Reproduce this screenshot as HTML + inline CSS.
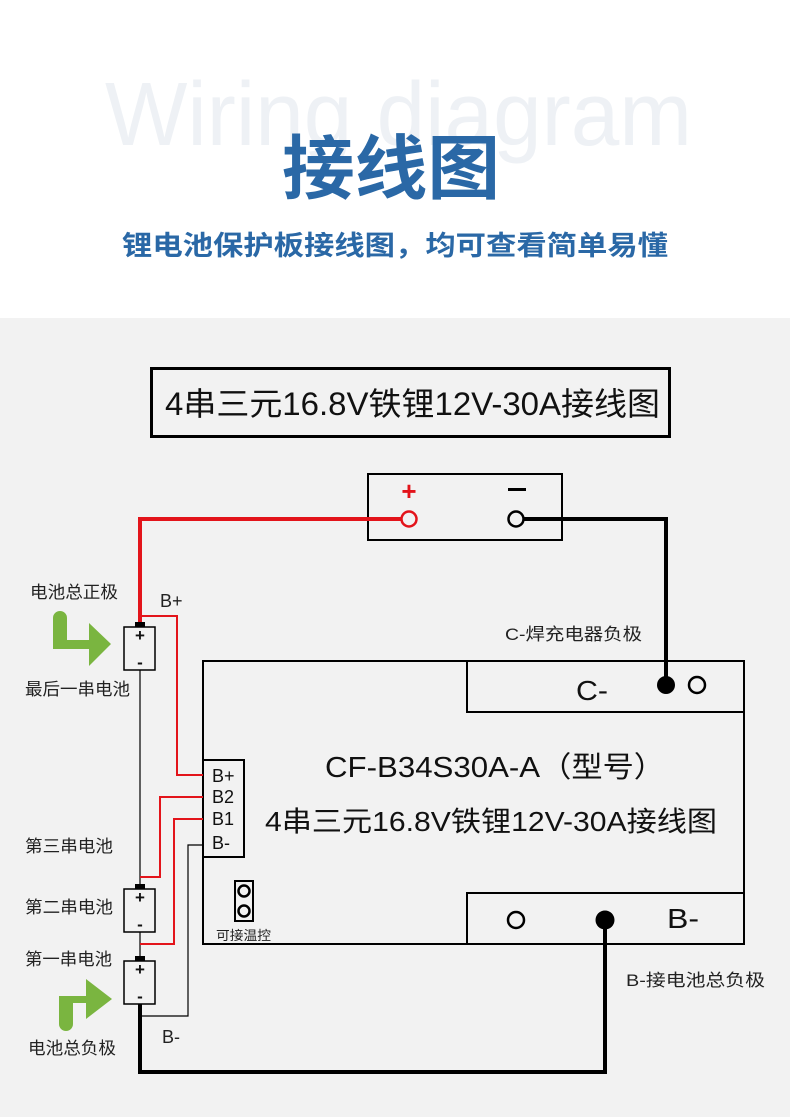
<!DOCTYPE html>
<html><head><meta charset="utf-8"><style>
html,body{margin:0;padding:0;width:790px;height:1117px;overflow:hidden;background:#fff}
svg{display:block}
text{font-family:"Liberation Sans","Noto Sans CJK SC",sans-serif}
</style></head><body>
<svg width="790" height="1117" viewBox="0 0 790 1117" xmlns="http://www.w3.org/2000/svg">
<rect x="0" y="0" width="790" height="318" fill="#fff"/>
<rect x="0" y="318" width="790" height="799" fill="#f2f2f2"/>
<text x="105" y="145" font-size="90" fill="#eef1f5" textLength="587" lengthAdjust="spacingAndGlyphs">Wiring diagram</text>
<text x="282" y="193" font-size="70" fill="#2a68a6" font-weight="bold" textLength="218" lengthAdjust="spacingAndGlyphs">接线图</text>
<text x="122" y="255" font-size="27" fill="#2a68a6" font-weight="bold" textLength="546" lengthAdjust="spacingAndGlyphs">锂电池保护板接线图，均可查看简单易懂</text>

<rect x="151.5" y="368.5" width="518" height="68" fill="none" stroke="#000" stroke-width="3"/>
<text x="165" y="415" font-size="32" fill="#111" textLength="495" lengthAdjust="spacingAndGlyphs">4串三元16.8V铁锂12V-30A接线图</text>

<rect x="368" y="474" width="194" height="66" fill="none" stroke="#000" stroke-width="2"/>
<text x="409" y="500" font-size="26" fill="#e3141b" text-anchor="middle" font-weight="bold">+</text>
<rect x="508" y="488" width="18" height="3" fill="#000"/>
<polyline points="401,519 140,519 140,624" fill="none" stroke="#e3141b" stroke-width="4"/>
<circle cx="409" cy="519" r="7.5" fill="#f2f2f2" stroke="#e3141b" stroke-width="2.5"/>
<polyline points="524,519 666,519 666,684" fill="none" stroke="#000" stroke-width="4"/>
<circle cx="516" cy="519" r="7.5" fill="#f2f2f2" stroke="#000" stroke-width="2.5"/>

<rect x="203" y="661" width="541" height="283" fill="none" stroke="#000" stroke-width="2"/>
<rect x="467" y="661" width="277" height="51" fill="none" stroke="#000" stroke-width="2"/>
<rect x="467" y="893" width="277" height="51" fill="none" stroke="#000" stroke-width="2"/>
<text x="576" y="700" font-size="28" fill="#111" textLength="32" lengthAdjust="spacingAndGlyphs">C-</text>
<circle cx="666" cy="685" r="9" fill="#000"/>
<circle cx="697" cy="685" r="8" fill="none" stroke="#000" stroke-width="2.5"/>
<text x="667" y="928" font-size="28" fill="#111" textLength="32" lengthAdjust="spacingAndGlyphs">B-</text>
<circle cx="516" cy="920" r="8" fill="none" stroke="#000" stroke-width="2.5"/>
<circle cx="605" cy="920" r="9.5" fill="#000"/>
<polyline points="605,920 605,1072 140,1072 140,1004" fill="none" stroke="#000" stroke-width="4"/>

<text x="325" y="777" font-size="29" fill="#111" textLength="340" lengthAdjust="spacingAndGlyphs">CF-B34S30A-A（型号）</text>
<text x="265" y="831" font-size="28" fill="#111" textLength="452" lengthAdjust="spacingAndGlyphs">4串三元16.8V铁锂12V-30A接线图</text>

<rect x="203" y="760" width="41" height="97" fill="#f2f2f2" stroke="#000" stroke-width="2"/>
<text x="212" y="782" font-size="18" fill="#111">B+</text>
<text x="212" y="803" font-size="18" fill="#111">B2</text>
<text x="212" y="825" font-size="18" fill="#111">B1</text>
<text x="212" y="849" font-size="18" fill="#111">B-</text>

<rect x="235" y="881" width="18" height="40" fill="none" stroke="#000" stroke-width="2"/>
<circle cx="244" cy="891" r="5.5" fill="none" stroke="#000" stroke-width="2.5"/>
<circle cx="244" cy="911" r="5.5" fill="none" stroke="#000" stroke-width="2.5"/>
<text x="216" y="940" font-size="13" fill="#222" textLength="55" lengthAdjust="spacingAndGlyphs">可接温控</text>

<polyline points="140,670 140,888" fill="none" stroke="#000" stroke-width="1.2"/>
<polyline points="140,932 140,960" fill="none" stroke="#000" stroke-width="1.2"/>
<polyline points="140,616 177,616 177,775 203,775" fill="none" stroke="#e3141b" stroke-width="2"/>
<polyline points="140,877 160,877 160,797 203,797" fill="none" stroke="#e3141b" stroke-width="2"/>
<polyline points="140,944 174,944 174,819 203,819" fill="none" stroke="#e3141b" stroke-width="2"/>
<polyline points="140,1016 188,1016 188,845 203,845" fill="none" stroke="#000" stroke-width="1.2"/>

<g fill="#f2f2f2" stroke="#000" stroke-width="1.5">
<rect x="124" y="627" width="31" height="43"/>
<rect x="124" y="889" width="31" height="43"/>
<rect x="124" y="961" width="31" height="43"/>
</g>
<rect x="135" y="622" width="10" height="5" fill="#000"/>
<rect x="135" y="884" width="10" height="5" fill="#000"/>
<rect x="135" y="956" width="10" height="5" fill="#000"/>
<g font-size="17" font-weight="bold" text-anchor="middle" fill="#111">
<text x="140" y="641">+</text><text x="140" y="668">-</text>
<text x="140" y="903">+</text><text x="140" y="930">-</text>
<text x="140" y="975">+</text><text x="140" y="1002">-</text>
</g>

<path d="M53,618 a7,7 0 0 1 14,0 v22 h22 v-17 l22,21 l-22,22 v-17 h-36 z" fill="#7ab540"/>
<path d="M59,1024 v-28 h27 v-17 l26,20 l-26,20 v-16 h-13 v21 a7,7 0 0 1 -14,0 z" fill="#7ab540"/>

<g font-size="17" fill="#222">
<text x="30" y="598" textLength="88" lengthAdjust="spacingAndGlyphs">电池总正极</text>
<text x="25" y="695" textLength="105" lengthAdjust="spacingAndGlyphs">最后一串电池</text>
<text x="25" y="852" textLength="88" lengthAdjust="spacingAndGlyphs">第三串电池</text>
<text x="25" y="913" textLength="88" lengthAdjust="spacingAndGlyphs">第二串电池</text>
<text x="25" y="965" textLength="87" lengthAdjust="spacingAndGlyphs">第一串电池</text>
<text x="28" y="1054" textLength="88" lengthAdjust="spacingAndGlyphs">电池总负极</text>
<text x="505" y="640" textLength="137" lengthAdjust="spacingAndGlyphs">C-焊充电器负极</text>
<text x="626" y="986" textLength="139" lengthAdjust="spacingAndGlyphs">B-接电池总负极</text>
<text x="160" y="607" font-size="18">B+</text>
<text x="162" y="1043" font-size="18">B-</text>
</g>
</svg>
</body></html>
